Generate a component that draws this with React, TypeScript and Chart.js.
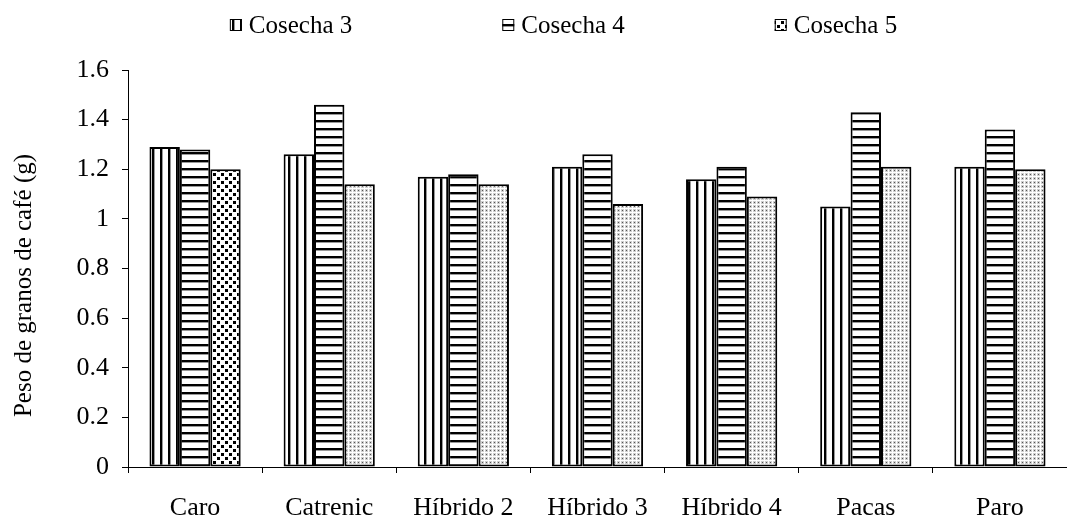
import React, { useEffect, useRef } from 'react';
import { Chart, registerables } from 'chart.js';

Chart.register(...registerables);

const categories = ['Caro', 'Catrenic', 'Híbrido 2', 'Híbrido 3', 'Híbrido 4', 'Pacas', 'Paro'];
const cosecha3 = [1.29, 1.26, 1.17, 1.21, 1.16, 1.05, 1.21];
const cosecha4 = [1.28, 1.46, 1.18, 1.26, 1.21, 1.43, 1.36];
const cosecha5 = [1.2, 1.14, 1.14, 1.06, 1.09, 1.21, 1.2];
const seriesNames = ['Cosecha 3', 'Cosecha 4', 'Cosecha 5'];
const yAxisTitle = 'Peso de granos de café (g)';

const FONT = '"Liberation Serif", "Times New Roman", serif';

function makePattern(w: number, h: number, draw: (c: CanvasRenderingContext2D) => void): CanvasPattern {
  const cv = document.createElement('canvas');
  cv.width = w;
  cv.height = h;
  const c = cv.getContext('2d')!;
  c.fillStyle = '#ffffff';
  c.fillRect(0, 0, w, h);
  draw(c);
  const ctx = document.createElement('canvas').getContext('2d')!;
  return ctx.createPattern(cv, 'repeat')!;
}

export default function App() {
  const ref = useRef<HTMLCanvasElement | null>(null);

  useEffect(() => {
    if (!ref.current) return;

    const vertical = makePattern(8, 8, (c) => {
      c.fillStyle = '#000';
      c.fillRect(0, 0, 2, 8);
      c.fillStyle = '#999';
      c.fillRect(2, 0, 1, 8);
    });
    const horizontal = makePattern(8, 8, (c) => {
      c.fillStyle = '#000';
      c.fillRect(0, 0, 8, 2);
      c.fillStyle = '#999';
      c.fillRect(0, 2, 8, 1);
    });
    const fineDots = makePattern(4, 4, (c) => {
      c.fillStyle = '#cfcfcf';
      c.fillRect(0, 0, 4, 4);
      c.fillStyle = '#ffffff';
      c.fillRect(0, 0, 4, 1);
      c.fillRect(0, 0, 1, 4);
      c.fillStyle = '#555';
      c.fillRect(2, 2, 1, 1);
    });
    const bigDots = makePattern(8, 8, (c) => {
      c.fillStyle = '#000';
      c.fillRect(1, 1, 3, 3);
      c.fillRect(5, 5, 3, 3);
    });

    const c5Colors = categories.map((_, i) => (i === 0 ? bigDots : fineDots));
    const legendFills = [vertical, horizontal, bigDots];

    const legendPlugin = {
      id: 'customLegend',
      afterDraw(chart: any) {
        const ctx = chart.ctx as CanvasRenderingContext2D;
        ctx.save();
        ctx.font = `25px ${FONT}`;
        const box = 12;
        const gapText = 7;
        const gapItem = 150;
        const widths = seriesNames.map((n) => ctx.measureText(n).width);
        const total = widths.reduce((a, b) => a + b, 0) + seriesNames.length * (box + gapText) + gapItem * (seriesNames.length - 1);
        let x = chart.width / 2 + 30 - total / 2;
        const y = 25;
        seriesNames.forEach((n, i) => {
          ctx.fillStyle = legendFills[i];
          ctx.fillRect(x, y - 6, box, box);
          ctx.strokeStyle = '#000';
          ctx.lineWidth = 1;
          ctx.strokeRect(x + 0.5, y - 5.5, box - 1, box - 1);
          ctx.fillStyle = '#000';
          ctx.textBaseline = 'middle';
          ctx.textAlign = 'left';
          ctx.fillText(n, x + box + gapText, y + 1);
          x += box + gapText + widths[i] + gapItem;
        });

        // y axis title
        const area = chart.chartArea;
        ctx.translate(24, (area.top + area.bottom) / 2 + 17);
        ctx.rotate(-Math.PI / 2);
        ctx.textAlign = 'center';
        ctx.textBaseline = 'middle';
        ctx.fillStyle = '#000';
        ctx.fillText(yAxisTitle, 0, 0);
        ctx.restore();
      },
    };

    const chart = new Chart(ref.current, {
      type: 'bar',
      data: {
        labels: categories,
        datasets: [
          { label: seriesNames[0], data: cosecha3, backgroundColor: vertical, borderColor: '#000', borderWidth: 2, borderSkipped: false },
          { label: seriesNames[1], data: cosecha4, backgroundColor: horizontal, borderColor: '#000', borderWidth: 2, borderSkipped: false },
          { label: seriesNames[2], data: cosecha5, backgroundColor: c5Colors, borderColor: '#000', borderWidth: 2, borderSkipped: false },
        ],
      },
      options: {
        animation: false,
        responsive: true,
        maintainAspectRatio: false,
        layout: { padding: { top: 70, right: 0, left: 0, bottom: 0 } },
        datasets: { bar: { categoryPercentage: 0.68, barPercentage: 1.0 } },
        plugins: {
          legend: { display: false },
          tooltip: { enabled: false },
        },
        scales: {
          x: {
            grid: { offset: true, drawOnChartArea: false, drawTicks: true, tickLength: 6, color: '#000' },
            border: { display: true, color: '#000', width: 1 },
            ticks: { color: '#000', font: { family: FONT, size: 26 }, padding: 20, maxRotation: 0, autoSkip: false },
            afterFit: (scale: any) => {
              scale.height = 50;
            },
          },
          y: {
            min: 0,
            max: 1.6,
            ticks: {
              stepSize: 0.2,
              color: '#000',
              font: { family: FONT, size: 26 },
              padding: 13,
              callback: (v: any) => String(+Number(v).toFixed(1)),
            },
            grid: { drawOnChartArea: false, drawTicks: true, tickLength: 6, color: '#000' },
            border: { display: true, color: '#000', width: 1 },
            title: { display: false },
            afterFit: (scale: any) => {
              scale.width = 128;
            },
          },
        },
      },
      plugins: [legendPlugin],
    });

    return () => chart.destroy();
  }, []);

  return (
    <div style={{ position: 'absolute', left: 0, top: 0, width: 1067, height: 517 }}>
      <canvas ref={ref} />
    </div>
  );
}
